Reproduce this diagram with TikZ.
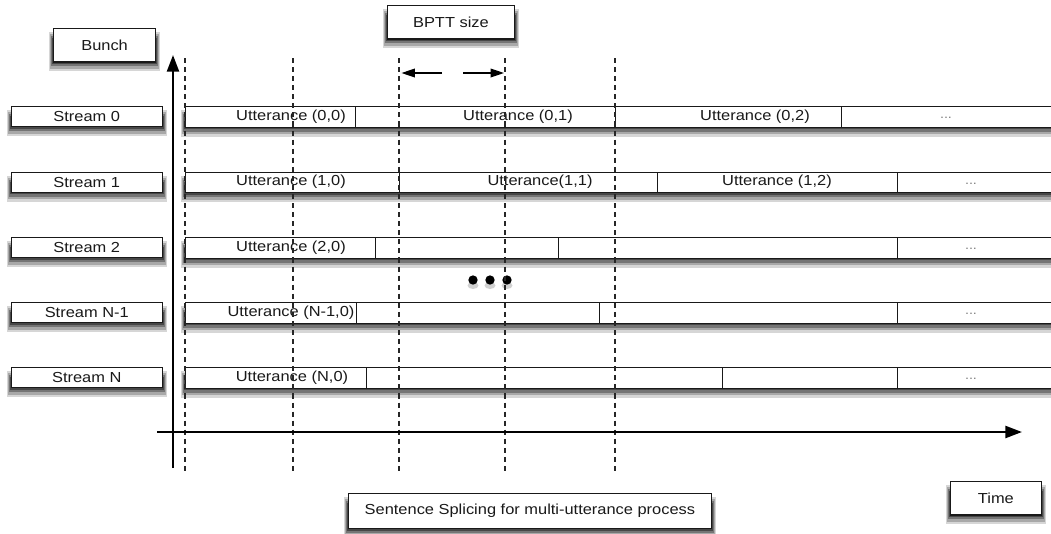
\documentclass[tikz,border=0pt]{standalone}
\usepackage{fontspec}
\setmainfont{Liberation Sans}[FakeStretch=1.13]
\usetikzlibrary{arrows.meta}

\begin{document}
\begin{tikzpicture}[x=0.75pt,y=-0.75pt]
\tikzset{
  labelbox/.style={draw=black!90, line width=0.9pt, fill=white, inner sep=0pt,
      font=\fontsize{10.9}{12}\selectfont, text=black!90, anchor=north west},
  streambox/.style={labelbox, minimum width=113.5pt, minimum height=15.2pt},
  cell/.style={draw=black!90, line width=0.8pt, fill=white,
      inner sep=0pt, minimum height=15.4pt, anchor=north west},
  celltext/.style={inner sep=0pt, font=\fontsize{10.9}{12}\selectfont, text=black!90},
  moretext/.style={inner sep=0pt, font=\fontsize{9.5}{10}\selectfont, text=black!50},
  axis/.style={line width=1.8pt, -{Triangle[length=12.5pt,width=9pt,fill=black]}},
  guide/.style={line width=0.8pt, black!85, dash pattern=on 3.8pt off 3pt},
  span/.style={line width=1pt, -{Triangle[length=10pt,width=6.5pt,fill=black]}},
  blob/.style={circle, fill=black, inner sep=0pt, minimum size=7pt},
}
% cell: name, left x, right x, top y
\newcommand\uttcell[4]{%
  \node[cell, minimum width={(#3-#2)*0.75pt}] (#1) at (#2,#4) {};}
% layered grey shadow round the lower part of a box: left x, top y, right x, bottom y
\newcommand\boxshadow[4]{%
  \pgfmathsetmacro\shL{#1}\pgfmathsetmacro\shT{#2}%
  \pgfmathsetmacro\shR{#3}\pgfmathsetmacro\shB{#4}%
  \fill[black!16] (\shL-4,\shT+4) rectangle (\shR+4.5,\shB+10);
  \fill[black!34] (\shL-3,\shT+6) rectangle (\shR+3.5,\shB+7.5);
  \fill[black!54] (\shL-2,\shT+8) rectangle (\shR+2.5,\shB+5);
  \fill[black!72] (\shL-1,\shT+10) rectangle (\shR+1.5,\shB+2.5);}

\useasboundingbox (0,0) rectangle (1051,533);

% ---- shadows ----
\boxshadow{53}{28}{155}{61}
\boxshadow{387}{5}{514}{38}
\boxshadow{348}{493}{711}{528}
\boxshadow{950}{481}{1041}{514}
\boxshadow{10.5}{106}{162}{126.3}
\boxshadow{10.5}{171.5}{162}{191.8}
\boxshadow{10.5}{237}{162}{257.3}
\boxshadow{10.5}{302}{162}{322.3}
\boxshadow{10.5}{367}{162}{387.3}
\boxshadow{185}{106}{1062}{126.5}
\boxshadow{185}{171.5}{1062}{192}
\boxshadow{185}{237}{1062}{257.5}
\boxshadow{185}{302}{1062}{322.5}
\boxshadow{185}{367}{1062}{387.5}

% ---- title boxes ----
\node[labelbox, minimum width=76.5pt, minimum height=25pt] (bunch) at (53,28) {Bunch};
\node[labelbox, minimum width=95pt, minimum height=25pt] (bptt) at (387,5) {BPTT size};
\node[labelbox, minimum width=272pt, minimum height=26pt] (caption) at (348,493) {Sentence Splicing for multi-utterance process};
\node[labelbox, minimum width=68pt, minimum height=25pt] (time) at (950,481) {Time};

% ---- stream labels ----
\node[streambox] (s0) at (10.5,106) {Stream 0};
\node[streambox] (s1) at (10.5,171.5) {Stream 1};
\node[streambox] (s2) at (10.5,237) {Stream 2};
\node[streambox] (sn1) at (10.5,302) {Stream N-1};
\node[streambox] (sn) at (10.5,367) {Stream N};

% ---- stream 0 ----
\uttcell{c00}{185}{355}{106}
\uttcell{c01}{355}{615}{106}
\uttcell{c02}{615}{841}{106}
\uttcell{c03}{841}{1062}{106}
\node[celltext] (t00) at (291,116.5) {Utterance (0,0)};
\node[celltext] (t01) at (518,116.5) {Utterance (0,1)};
\node[celltext] (t02) at (755,116.5) {Utterance (0,2)};
\node[moretext] (t03) at (946,118) {...};

% ---- stream 1 ----
\uttcell{c10}{185}{399}{171.5}
\uttcell{c11}{399}{657}{171.5}
\uttcell{c12}{657}{897}{171.5}
\uttcell{c13}{897}{1062}{171.5}
\node[celltext] (t10) at (291,182) {Utterance (1,0)};
\node[celltext] (t11) at (540,182) {Utterance(1,1)};
\node[celltext] (t12) at (777,182) {Utterance (1,2)};
\node[moretext] (t13) at (971,183.5) {...};

% ---- stream 2 ----
\uttcell{c20}{185}{375}{237}
\uttcell{c21}{375}{558}{237}
\uttcell{c22}{558}{897}{237}
\uttcell{c23}{897}{1062}{237}
\node[celltext] (t20) at (291,247.5) {Utterance (2,0)};
\node[moretext] (t23) at (971,249) {...};

% ---- stream N-1 ----
\uttcell{cm0}{185}{356}{302}
\uttcell{cm1}{356}{599}{302}
\uttcell{cm2}{599}{897}{302}
\uttcell{cm3}{897}{1062}{302}
\node[celltext] (tm0) at (291,312.5) {Utterance (N-1,0)};
\node[moretext] (tm3) at (971,314) {...};

% ---- stream N ----
\uttcell{cn0}{185}{366}{367}
\uttcell{cn1}{366}{722}{367}
\uttcell{cn2}{722}{897}{367}
\uttcell{cn3}{897}{1062}{367}
\node[celltext] (tn0) at (292,377.5) {Utterance (N,0)};
\node[moretext] (tn3) at (971,379) {...};

% ---- ellipsis between the streams ----
\foreach \dx [count=\i] in {473,490,507} {
  \fill[black!18] (\dx,285.5) ellipse (5.5 and 3.5);
  \node[blob] (dot\i) at (\dx,280) {};
}

% ---- BPTT boundaries ----
\foreach \gx [count=\i] in {185,293,399,505,615} {
  \coordinate (g\i top) at (\gx,58);
  \coordinate (g\i bot) at (\gx,473);
  \draw[guide] (g\i top) -- (g\i bot);
}

% ---- BPTT span arrows ----
\coordinate (spanL) at (442,73);
\coordinate (spanLtip) at (401.5,73);
\coordinate (spanR) at (463,73);
\coordinate (spanRtip) at (504,73);
\draw[span] (spanL) -- (spanLtip);
\draw[span] (spanR) -- (spanRtip);

% ---- axes ----
\coordinate (ybase) at (173,468);
\coordinate (ytip) at (173,55);
\coordinate (xbase) at (157,432);
\coordinate (xtip) at (1022,432);
\draw[axis] (ybase) -- (ytip);
\draw[axis] (xbase) -- (xtip);
\end{tikzpicture}
\end{document}
